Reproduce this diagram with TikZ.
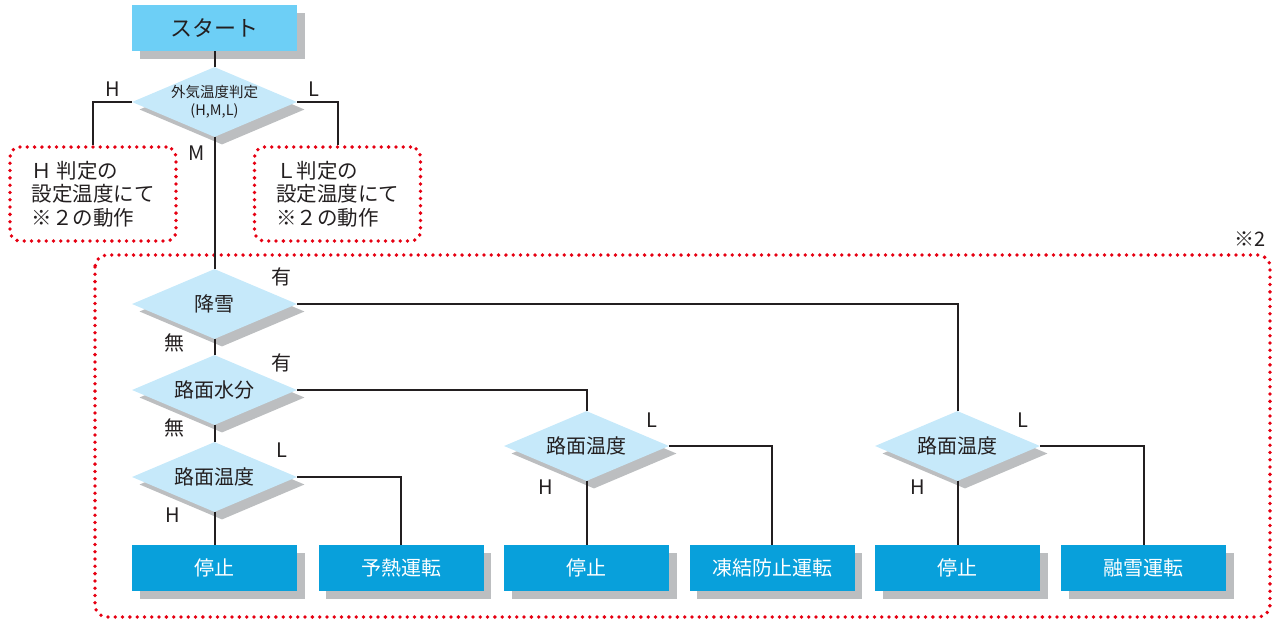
\documentclass[tikz,border=0pt]{standalone}
\usepackage{fontspec}
\setmainfont{Noto Sans CJK JP}
\usepackage{tikz}
\usetikzlibrary{shapes.geometric,shadows}
\definecolor{StartBlue}{HTML}{6DCFF6}
\definecolor{DecideBlue}{HTML}{C6E9FA}
\definecolor{ActBlue}{HTML}{08A0DB}
\definecolor{ShadowGray}{HTML}{BCBEC0}
\definecolor{DotRed}{HTML}{E60012}
\definecolor{InkGray}{HTML}{231F20}

\begin{document}
\begin{tikzpicture}[x=1pt,y=-1pt,
  boxshadow/.style={drop shadow={shadow xshift=7.5pt,shadow yshift=-7.5pt,fill=ShadowGray,opacity=1}},
  startbox/.style={boxshadow,rectangle,fill=StartBlue,minimum width=165pt,minimum height=46pt,inner sep=0pt,text=InkGray,font=\fontsize{22}{26}\selectfont},
  act/.style={boxshadow,rectangle,fill=ActBlue,minimum width=165pt,minimum height=46pt,inner sep=0pt,text=white,font=\fontsize{20}{24}\selectfont},
  decide/.style={boxshadow,diamond,aspect=2.36,fill=DecideBlue,minimum width=165pt,minimum height=70pt,inner sep=0pt,text=InkGray,font=\fontsize{20}{24}\selectfont,align=center},
  dots/.style={draw=DotRed,line width=3.8pt,line cap=round,dash pattern=on 0pt off 7.3pt},
  note/.style={dots,rounded corners=10pt,minimum width=166pt,minimum height=94pt,align=left,text=InkGray,font=\fontsize{20.5}{23.5}\selectfont},
  tag/.style={text=InkGray,inner sep=0pt,font=\fontsize{20}{24}\selectfont},
  wire/.style={draw=InkGray,line width=2pt}]
\useasboundingbox (0,0) rectangle (1279,619);
%
\node[startbox] (start) at (214.5,28) {スタート};
\node[decide,font=\fontsize{14.5}{18}\selectfont] (outside) at (214.5,102) {外気温度判定\\(H,M,L)};
\node[note] (noteH) at (93,194) {Ｈ 判定の\\設定温度にて\\※２の動作};
\node[note] (noteL) at (337.5,194) {Ｌ判定の\\設定温度にて\\※２の動作};
%
\draw[dots,rounded corners=12pt] (95,255) rectangle (1270,617);
\node[tag] (mark2) at (1250,239) {※2};
%
\node[decide] (snow) at (214.5,304) {降雪};
\node[decide] (water) at (214.5,390) {路面水分};
\node[decide] (roadA) at (214.5,477) {路面温度};
\node[decide] (roadB) at (586.5,446) {路面温度};
\node[decide] (roadC) at (957.5,446) {路面温度};
%
\node[act] (stopA) at (214.5,568) {停止};
\node[act] (preheat) at (401,568) {予熱運転};
\node[act] (stopB) at (586.5,568) {停止};
\node[act] (antifreeze) at (772,568) {凍結防止運転};
\node[act] (stopC) at (957.5,568) {停止};
\node[act] (melt) at (1143.5,568) {融雪運転};
%
\draw[wire] (start) -- (outside);
\draw[wire] (outside.west) -| (noteH.north);
\draw[wire] (outside.east) -| (noteL.north);
\draw[wire] (outside) -- (snow);
\draw[wire] (snow) -- (water);
\draw[wire] (water) -- (roadA);
\draw[wire] (roadA) -- (stopA);
\draw[wire] (snow.east) -| (roadC.north);
\draw[wire] (water.east) -| (roadB.north);
\draw[wire] (roadA.east) -| (preheat.north);
\draw[wire] (roadB) -- (stopB);
\draw[wire] (roadB.east) -| (antifreeze.north);
\draw[wire] (roadC) -- (stopC);
\draw[wire] (roadC.east) -| (melt.north);
%
\node[tag] (hiOut) at (113,89.5) {H};
\node[tag] (loOut) at (314,89) {L};
\node[tag] (midOut) at (197,153) {M};
\node[tag] (snowYes) at (281,277) {有};
\node[tag] (snowNo) at (174,343) {無};
\node[tag] (waterYes) at (281,363) {有};
\node[tag] (waterNo) at (174,428) {無};
\node[tag] (loA) at (282,450) {L};
\node[tag] (hiA) at (173,515) {H};
\node[tag] (loB) at (652,420) {L};
\node[tag] (hiB) at (546,487) {H};
\node[tag] (loC) at (1023,420) {L};
\node[tag] (hiC) at (918,487) {H};
\end{tikzpicture}
\end{document}
